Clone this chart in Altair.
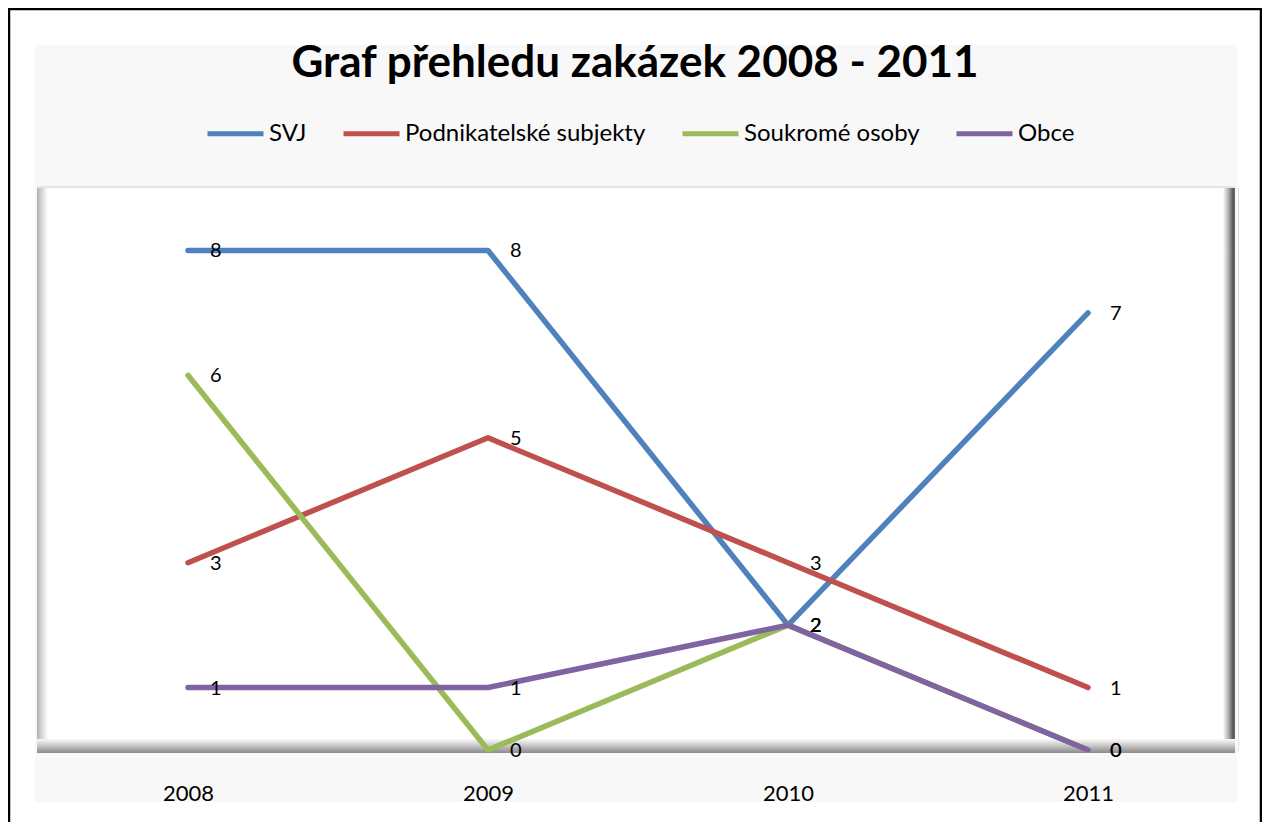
import altair as alt
import pandas as pd

years = ["2008", "2009", "2010", "2011"]
series = ["SVJ", "Podnikatelské subjekty", "Soukromé osoby", "Obce"]
svj = [8, 8, 2, 7]
podnikatelske = [3, 5, 3, 1]
soukrome = [6, 0, 2, 0]
obce = [1, 1, 2, 0]
colors = ["#4F81BD", "#C0504D", "#9BBB59", "#8064A2"]
title_text = "Graf přehledu zakázek 2008 - 2011"

rows = []
for name, vals in zip(series, [svj, podnikatelske, soukrome, obce]):
    for y, v in zip(years, vals):
        rows.append({"rok": y, "serie": name, "hodnota": v})
df = pd.DataFrame(rows)
one = alt.Data(values=[{"k": 1}])

FONT = "Lato"
W, H = 1200, 562

x_enc = alt.X("rok:N", sort=years, title=None,
              scale=alt.Scale(paddingInner=0, paddingOuter=0.5),
              axis=alt.Axis(ticks=False, domain=False, grid=False, labelAngle=0,
                            labelFontSize=22, labelFont=FONT, labelColor="#000000",
                            labelPadding=33, zindex=5))
y_enc = alt.Y("hodnota:Q", title=None, scale=alt.Scale(domain=[0, 9], nice=False),
              axis=None)
color_enc = alt.Color("serie:N", sort=series,
                      scale=alt.Scale(domain=series, range=colors),
                      legend=alt.Legend(title=None, orient="none", direction="horizontal",
                                        legendX=167, legendY=-85,
                                        symbolType="stroke", symbolSize=3136,
                                        symbolStrokeWidth=5, labelFont=FONT,
                                        labelFontSize=24, labelColor="#000000",
                                        labelLimit=0, labelOffset=3, columnPadding=26,
                                        zindex=5))

def deco(fill, x, x2, y, y2):
    return alt.Chart(one).mark_rect(fill=fill).encode(
        x=alt.value(x), x2=alt.value(x2), y=alt.value(y), y2=alt.value(y2))

def grad(c, horizontal=True):
    stops = [alt.GradientStop(color=col, offset=o) for o, col in c]
    if horizontal:
        return alt.LinearGradient(gradient="linear", stops=stops, x1=0, x2=1, y1=0, y2=0)
    return alt.LinearGradient(gradient="linear", stops=stops, x1=0, x2=0, y1=0, y2=1)

border = alt.Chart(one).mark_rect(fill="transparent", stroke="#000000", strokeWidth=2.5).encode(
    x=alt.value(-29), x2=alt.value(1223), y=alt.value(-179), y2=alt.value(660))
bg = deco("#f8f8f8", -3, 1199, -143, 614)
frame = deco("#ffffff", -1, 1197, -2, 565)
top_line = deco("#e6e6e6", -1, 1197, -2, 0)
left_band = deco(grad([(0, "#b0b0b0"), (0.4, "#d4d4d4"), (1, "#ffffff")]), -1, 10, 0, 553)
right_band = deco(grad([(0, "#ffffff"), (0.5, "#a8a8a8"), (0.85, "#555555"), (1, "#707070")]), 1185, 1197, 0, 562)
bottom_band = deco(grad([(0, "#fafafa"), (0.4, "#d0d0d0"), (0.8, "#a0a0a0"), (1, "#8c8c8c")], horizontal=False), -1, 1197, 551, 565)

title = alt.Chart(one).mark_text(text=title_text, font=FONT, fontSize=44, fontWeight="bold",
                                 color="#000000", align="center", baseline="middle").encode(
    x=alt.value(597), y=alt.value(-124))

lines = alt.Chart(df).mark_line(strokeWidth=5.5, strokeCap="round", strokeJoin="round").encode(
    x=x_enc, y=y_enc, color=color_enc)
labels = alt.Chart(df).mark_text(align="left", baseline="middle", dx=22, dy=1,
                                 font=FONT, fontSize=20, color="#000000").encode(
    x=alt.X("rok:N", sort=years), y="hodnota:Q", text="hodnota:Q")

chart = alt.layer(border, bg, frame, top_line, left_band, right_band, bottom_band,
                  title, lines, labels).properties(
    width=W, height=H,
    autosize=alt.AutoSizeParams(type="none"),
    padding={"left": 30, "top": 180, "right": 24, "bottom": 72},
).configure_view(stroke=None).configure(background="#ffffff")

chart.save("out.html", embed_options={"renderer": "svg", "actions": False})
